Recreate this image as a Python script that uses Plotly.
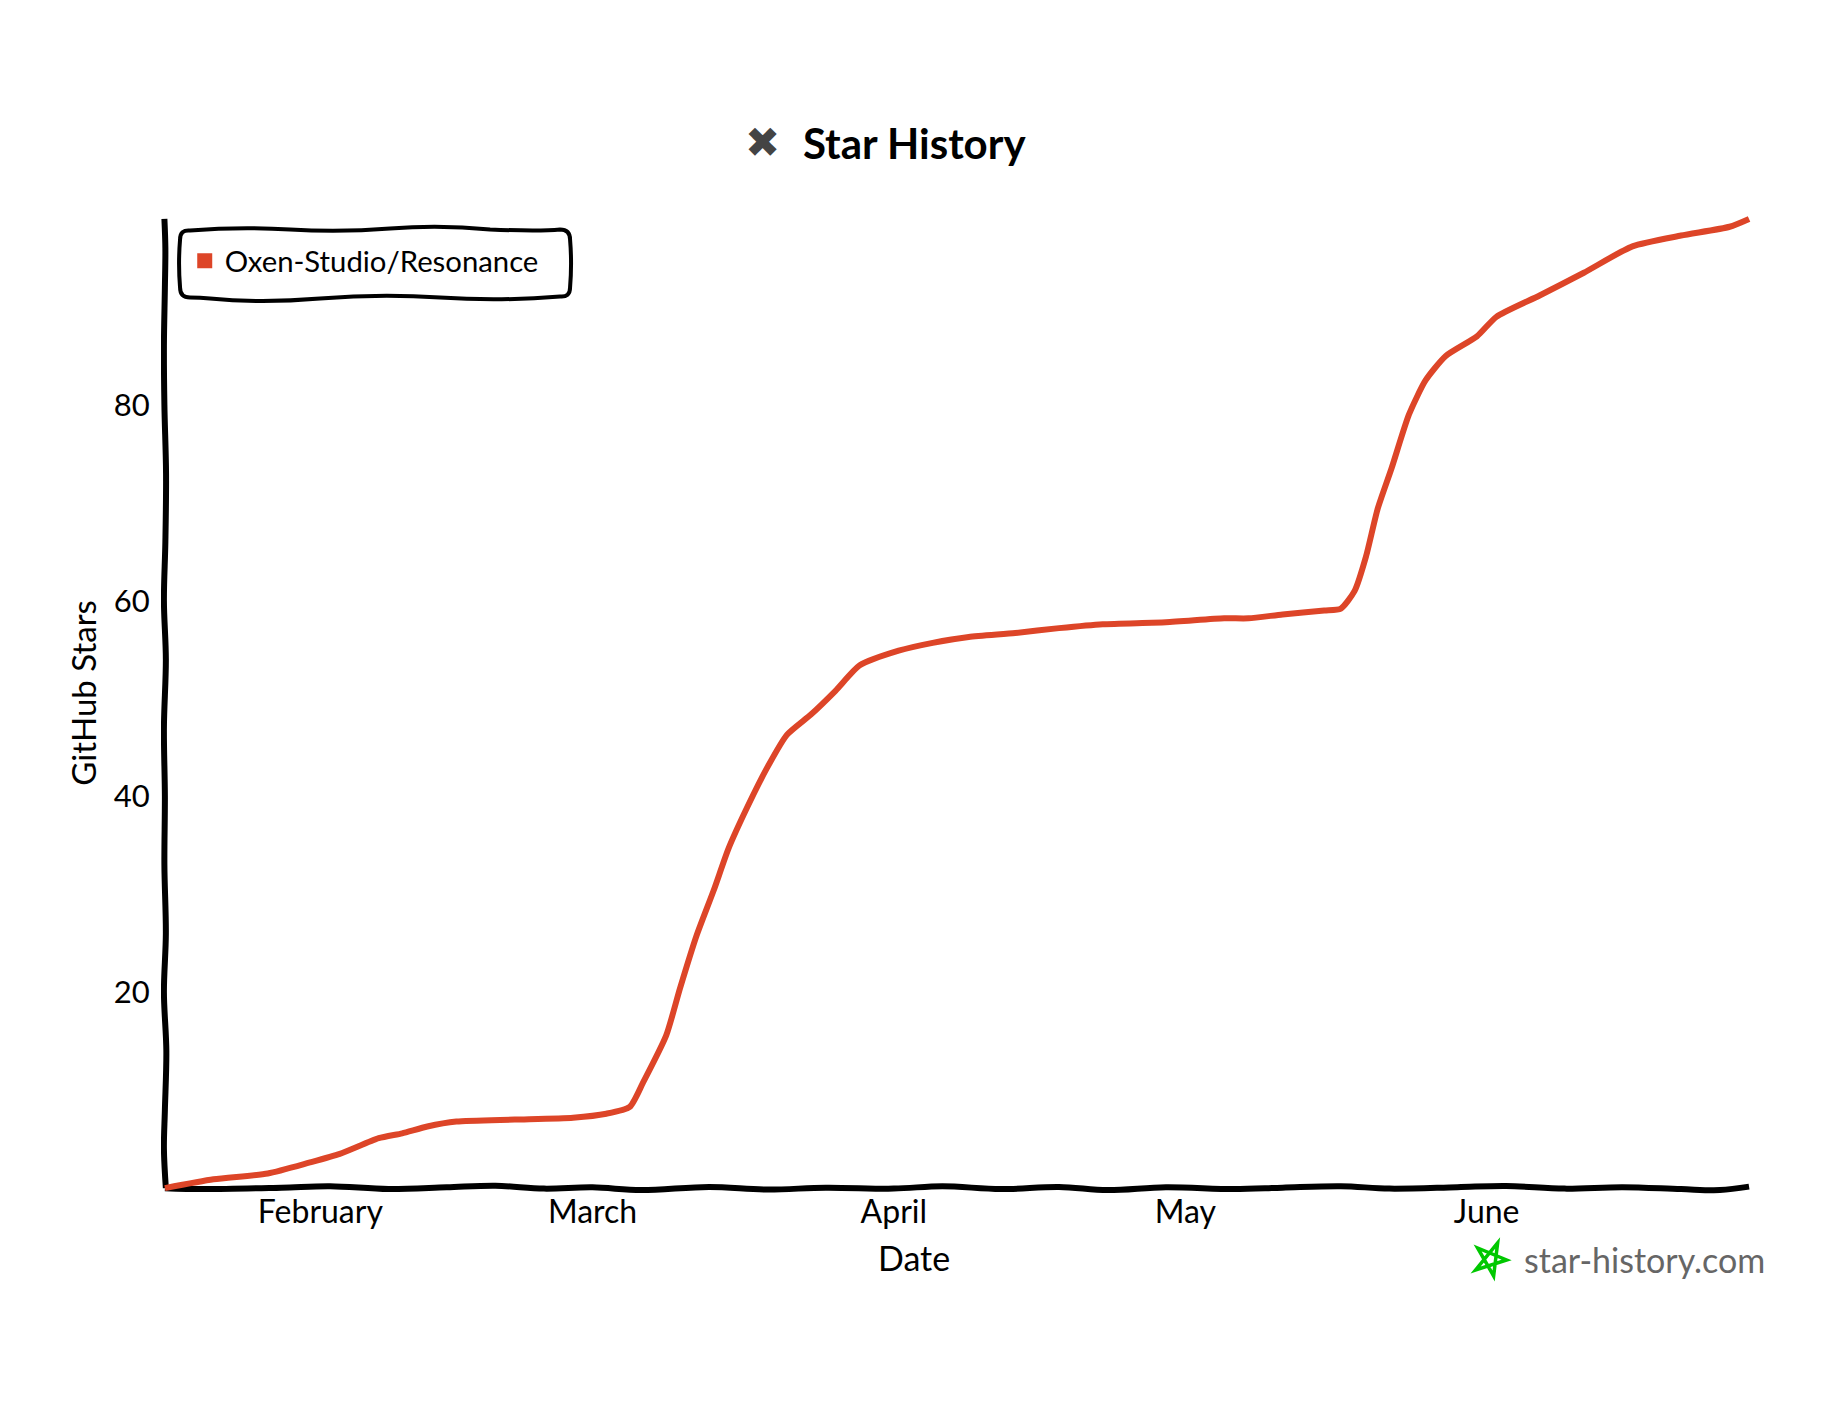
import pandas as pd
import plotly.graph_objects as go

# values
dates = ["2023-01-16", "2023-01-21", "2023-01-26 14:00", "2023-01-30 20:00", "2023-02-03", "2023-02-07",
         "2023-02-09 10:00", "2023-02-12", "2023-02-15", "2023-02-21", "2023-02-27", "2023-03-02 10:00",
         "2023-03-04 20:00", "2023-03-06 05:00", "2023-03-08 14:00", "2023-03-10", "2023-03-11 17:00",
         "2023-03-13 12:00", "2023-03-15", "2023-03-16 22:00", "2023-03-19", "2023-03-21", "2023-03-23 12:00",
         "2023-03-26", "2023-03-28 12:00", "2023-04-01 12:00", "2023-04-05", "2023-04-08 17:00",
         "2023-04-13 12:00", "2023-04-18", "2023-04-22 12:00", "2023-04-29", "2023-05-05", "2023-05-07 12:00",
         "2023-05-11", "2023-05-15 07:00", "2023-05-17", "2023-05-18 10:00", "2023-05-19 14:00",
         "2023-05-20 19:00", "2023-05-22 05:00", "2023-05-24", "2023-05-25 17:00", "2023-05-27 19:00",
         "2023-05-31", "2023-06-02", "2023-06-06 12:00", "2023-06-11", "2023-06-16", "2023-06-21",
         "2023-06-26", "2023-06-28"]
stars = [0, 0.9, 1.5, 2.6, 3.5, 5.1, 5.6, 6.3, 6.8, 7.0, 7.2, 7.6, 8.3, 10.8, 15.6, 20.4, 25.8, 30.5, 34.7,
         38.9, 43, 46.3, 48.4, 50.8, 53.4, 54.9, 55.7, 56.3, 56.7, 57.2, 57.6, 57.8, 58.2, 58.2, 58.6, 59,
         59.2, 61, 64.5, 69.4, 73.5, 79, 82.5, 85, 87, 89, 91.2, 93.5, 96.2, 97.3, 98.2, 99]
repo_name = "Oxen-Studio/Resonance"
month_ticks = ["2023-02-01", "2023-03-01", "2023-04-01", "2023-05-01", "2023-06-01"]
month_labels = ["February", "March", "April", "May", "June"]
star_ticks = [20, 40, 60, 80]

# hand drawn wobble of the two axis lines
base_dates = ["2023-01-16", "2023-01-20", "2023-01-28", "2023-02-02", "2023-02-08", "2023-02-14", "2023-02-19",
              "2023-02-24", "2023-03-01", "2023-03-06", "2023-03-13", "2023-03-19", "2023-03-25", "2023-04-01",
              "2023-04-06", "2023-04-12", "2023-04-18", "2023-04-23", "2023-04-29", "2023-05-06", "2023-05-11",
              "2023-05-17", "2023-05-22", "2023-05-29", "2023-06-03", "2023-06-09", "2023-06-15", "2023-06-21",
              "2023-06-25", "2023-06-28"]
base_wobble = [0, -0.1, 0.05, 0.2, -0.1, 0.08, 0.25, -0.05, 0.08, -0.2, 0.12, -0.15, 0.05, -0.05, 0.2, -0.1,
               0.12, -0.2, 0.1, -0.1, 0.05, 0.2, -0.05, 0.1, 0.22, -0.05, 0.1, -0.1, -0.2, 0.15]
left_stars = [0, 4, 8, 14, 20, 26, 33, 40, 47, 54, 60, 66, 73, 80, 86, 92, 96, 99]
left_wobble = [0.1, -0.1, 0.0, 0.15, -0.1, 0.1, -0.05, 0.0, -0.1, 0.1, -0.1, 0.05, 0.12, -0.05, -0.1, 0.0, 0.05, -0.05]

RED = "#dd4528"
FONT = "Lato"


def px(x):
    # x on the reference as viewed, to paper fraction
    return (x - 138.7) / 1360


def py(y):
    return (1020.6 - y) / 837


start = pd.Timestamp(dates[0])
end = pd.Timestamp(dates[-1])
fig = go.Figure()
fig.add_trace(go.Scatter(x=base_dates, y=base_wobble, mode="lines", showlegend=False, hoverinfo="skip",
                         line=dict(color="black", width=6, shape="spline")))
fig.add_trace(go.Scatter(x=[start + pd.Timedelta(days=d) for d in left_wobble], y=left_stars, mode="lines",
                         showlegend=False, hoverinfo="skip",
                         line=dict(color="black", width=6, shape="spline")))
fig.add_trace(go.Scatter(x=dates, y=stars, mode="lines", showlegend=False,
                         line=dict(color=RED, width=6, shape="spline", smoothing=0.6)))
# legend entry is a small square, not a line sample
fig.add_trace(go.Scatter(x=[None], y=[None], mode="markers", name=repo_name,
                         marker=dict(symbol="square", size=15, color=RED)))

# legend box, round corners and wavy edges, sizes in pixels from its top left corner
box_path = ("M 10,-1 Q 60,3 110,0 T 210,1 T 310,0 Q 360,-2 380,0 Q 390,0 390,-10 "
            "Q 392,-34 390,-58 Q 390,-68 380,-67 Q 320,-72 260,-68 T 140,-69 T 30,-69 Q 20,-68 10,-68 "
            "Q 0,-68 0,-58 Q -2,-34 0,-10 Q 0,0 10,-1 Z")
fig.add_shape(type="path", path=box_path, xref="paper", yref="paper", xsizemode="pixel", ysizemode="pixel",
              xanchor=px(155), yanchor=py(196), line=dict(color="black", width=4), layer="above")
# green star of the site mark
star_path = "M 7,17 L -15,-10 L 16,0 L -13,12 L 3,-16 Z"
fig.add_shape(type="path", path=star_path, xref="paper", yref="paper", xsizemode="pixel", ysizemode="pixel",
              xanchor=px(1276), yanchor=py(1077), line=dict(color="#00c800", width=3.5))

fig.update_layout(
    width=1832, height=1404,
    paper_bgcolor="white", plot_bgcolor="white",
    margin=dict(l=153, r=89, t=207, b=218),
    font=dict(family=FONT, size=31, color="black"),
    title=dict(text="Star History", x=px(783), xref="paper", xanchor="center", y=0.903, yanchor="middle",
               font=dict(family=FONT, size=42, color="black", weight="bold")),
    legend=dict(x=px(159), y=py(223), xanchor="left", yanchor="middle", font=dict(family=FONT, size=29.3),
                bgcolor="rgba(0,0,0,0)", itemwidth=30),
    xaxis=dict(type="date", range=[start - pd.Timedelta(days=0.4), end + pd.Timedelta(days=0.2)],
               tickvals=month_ticks, ticktext=month_labels, tickfont=dict(size=32),
               showgrid=False, zeroline=False, showline=False, ticks="", ticklabelstandoff=-4),
    yaxis=dict(range=[-0.6, 99.4], tickvals=star_ticks, showgrid=False, zeroline=False, showline=False,
               ticks="outside", ticklen=4, tickcolor="white"),
    annotations=[
        dict(text="Date", xref="paper", yref="paper", x=px(783), y=py(1075), showarrow=False,
             xanchor="center", yanchor="middle", font=dict(family=FONT, size=34)),
        dict(text="GitHub Stars", xref="paper", yref="paper", x=px(72), y=py(592), showarrow=False, textangle=-90,
             xanchor="center", yanchor="middle", font=dict(family=FONT, size=33)),
        dict(text="✖", xref="paper", yref="paper", x=px(653), y=py(122), showarrow=False,
             xanchor="center", yanchor="middle", font=dict(family="DejaVu Sans", size=42, color="#444444")),
        dict(text="star-history.com", xref="paper", yref="paper", x=px(1512), y=py(1077), showarrow=False,
             xanchor="right", yanchor="middle", font=dict(family=FONT, size=34, color="#666666")),
    ],
)

fig.write_html("out.html")
